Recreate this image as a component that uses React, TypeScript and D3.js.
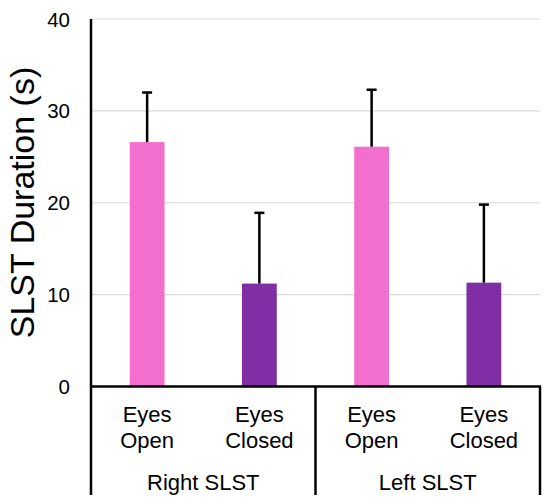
import React from "react";
import * as d3 from "d3";

const conditions = ["Eyes Open", "Eyes Closed", "Eyes Open", "Eyes Closed"];
const groups = ["Right SLST", "Left SLST"];
const means = [26.6, 11.2, 26.1, 11.3];
const upperErr = [32.0, 18.9, 32.3, 19.8];
const yTicks = [0, 10, 20, 30, 40];
const barColors = ["#f26fcd", "#7f2ea3", "#f26fcd", "#7f2ea3"];

const W = 550;
const H = 503;
const left = 91;
const right = 540;
const top = 19;
const bottom = 386.5;
const catBottom = 495;
const font = "Liberation Sans, Arial, Helvetica, sans-serif";

export default function App() {
  const idx = conditions.map((_, i) => String(i));
  const x = d3
    .scaleBand<string>()
    .domain(idx)
    .range([left, right])
    .paddingInner(0.69)
    .paddingOuter(0.345);
  const y = d3.scaleLinear().domain([0, 40]).range([bottom, top]);
  const groupX = d3
    .scaleBand<string>()
    .domain(groups)
    .range([left, right]);

  return (
    <svg
      width={W}
      height={H}
      style={{ position: "absolute", left: 0, top: 0, background: "#fff" }}
      fontFamily={font}
    >
      {yTicks
        .filter((t) => t > 0)
        .map((t) => (
          <line
            key={"g" + t}
            x1={left}
            x2={right}
            y1={y(t)}
            y2={y(t)}
            stroke="#d9d9d9"
            strokeWidth={1.2}
          />
        ))}
      {yTicks.map((t) => (
        <text
          key={"t" + t}
          x={70}
          y={y(t)}
          textAnchor="end"
          dominantBaseline="central"
          fontSize={20.5}
          fill="#000"
        >
          {t}
        </text>
      ))}
      <text
        transform={`translate(33.5, 202.5) rotate(-90)`}
        textAnchor="middle"
        fontSize={34}
        fill="#000"
      >
        SLST Duration (s)
      </text>
      {means.map((m, i) => {
        const bx = x(String(i))!;
        const cx = bx + x.bandwidth() / 2;
        return (
          <g key={"b" + i}>
            <rect
              x={bx}
              y={y(m)}
              width={x.bandwidth()}
              height={y(0) - y(m)}
              fill={barColors[i]}
            />
            <line x1={cx} x2={cx} y1={y(m)} y2={y(upperErr[i])} stroke="#000" strokeWidth={2.5} />
            <line
              x1={cx - 5}
              x2={cx + 5}
              y1={y(upperErr[i])}
              y2={y(upperErr[i])}
              stroke="#000"
              strokeWidth={2.5}
            />
          </g>
        );
      })}
      <line x1={left} x2={left} y1={top} y2={catBottom} stroke="#000" strokeWidth={2.5} />
      <line x1={left - 1} x2={right + 1} y1={bottom} y2={bottom} stroke="#000" strokeWidth={2.5} />
      {groups.map((g) => {
        const gx = groupX(g)!;
        return (
          <line
            key={"d" + g}
            x1={gx + groupX.bandwidth()}
            x2={gx + groupX.bandwidth()}
            y1={bottom}
            y2={catBottom}
            stroke="#000"
            strokeWidth={2.5}
          />
        );
      })}
      {conditions.map((c, i) => {
        const cx = x(String(i))! + x.bandwidth() / 2;
        const parts = c.split(" ");
        return (
          <text key={"c" + i} textAnchor="middle" fontSize={22} fill="#000">
            {parts.map((p, j) => (
              <tspan key={j} x={cx} y={421.7 + j * 26.6}>
                {p}
              </tspan>
            ))}
          </text>
        );
      })}
      {groups.map((g) => (
        <text
          key={"l" + g}
          x={groupX(g)! + groupX.bandwidth() / 2}
          y={490}
          textAnchor="middle"
          fontSize={22}
          fill="#000"
        >
          {g}
        </text>
      ))}
    </svg>
  );
}
